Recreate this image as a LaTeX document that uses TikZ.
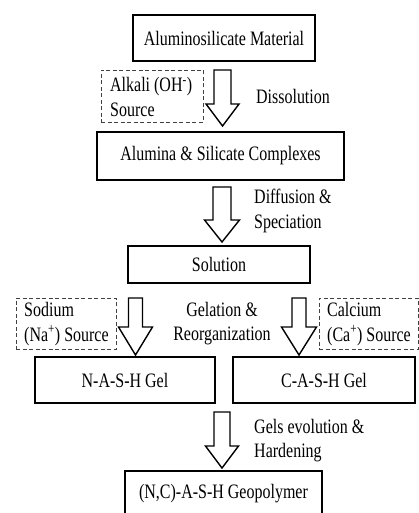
\documentclass[tikz,border=0pt]{standalone}
\usepackage{fontspec}
\setmainfont{Liberation Serif}[FakeStretch=0.78]
\begin{document}
\begin{tikzpicture}[x=1pt,y=-1pt,
  box/.style={draw=black,line width=1.6pt,inner sep=0pt,font=\fontsize{20.5}{24}\selectfont},
  srcbox/.style={draw=black!75,line width=0.9pt,dash pattern=on 4pt off 2.5pt,inner sep=0pt},
  lbl/.style={inner sep=0pt,font=\fontsize{20.5}{24.5}\selectfont},
  barrow/.style={draw=black,line width=1.4pt,fill=white,line join=miter}]
\useasboundingbox (0,0) rectangle (419,513);
\clip (0,0) rectangle (419,513);
% boxes
\node[box,minimum width=182pt,minimum height=46pt] (alu) at (224,38) {Aluminosilicate Material};
\node[box,minimum width=247pt,minimum height=48pt] (cpx) at (220.5,156) {Alumina \& Silicate Complexes};
\node[box,minimum width=182pt,minimum height=37pt] (sol) at (219,264.5) {Solution};
\node[box,minimum width=180pt,minimum height=46pt] (nash) at (125,380) {N-A-S-H Gel};
\node[box,minimum width=182pt,minimum height=46pt] (cash) at (324,380) {C-A-S-H Gel};
\node[box,minimum width=197pt,minimum height=46pt] (geo) at (223.5,494) {(N,C)-A-S-H Geopolymer};
% source boxes
\node[srcbox,minimum width=102pt,minimum height=52pt] (alk) at (152,96) {};
\node[lbl,anchor=west,align=left] (alkt) at (110,97) {Alkali (OH\textsuperscript{-})\\Source};
\node[srcbox,minimum width=100pt,minimum height=51pt] (na) at (66,323.5) {};
\node[lbl,anchor=west,align=left] (nat) at (24,324) {Sodium\\(Na\textsuperscript{+}) Source};
\node[srcbox,minimum width=99pt,minimum height=51pt] (ca) at (368.5,323.5) {};
\node[lbl,anchor=west,align=left] (cat) at (327,324) {Calcium\\(Ca\textsuperscript{+}) Source};
% block arrows: center x, top, head start, tip, shaft half, head half
\newcommand{\blockarr}[6]{%
  \draw[barrow] (#1-#5,#2) -- (#1+#5,#2) -- (#1+#5,#3) -- (#1+#6,#3) -- (#1,#4)
    -- (#1-#6,#3) -- (#1-#5,#3) -- cycle;}
\blockarr{222.5}{70}{104}{126}{8.5}{16.5}
\blockarr{222}{187}{220}{242}{9}{17.5}
\blockarr{135.5}{298}{327}{355}{7}{17}
\blockarr{299}{298}{327}{355}{7}{17.5}
\blockarr{222}{412}{446}{468}{8}{16.5}
% labels
\node[lbl] (diss) at (293,96) {Dissolution};
\node[lbl,anchor=west,align=left] (diff) at (254,211) {Diffusion \&\\Speciation};
\node[lbl,align=center] (gel) at (222,323.5) {Gelation \&\\Reorganization};
\node[lbl,anchor=west,align=left] (hard) at (254,440.5) {Gels evolution \&\\Hardening};
\end{tikzpicture}
\end{document}
